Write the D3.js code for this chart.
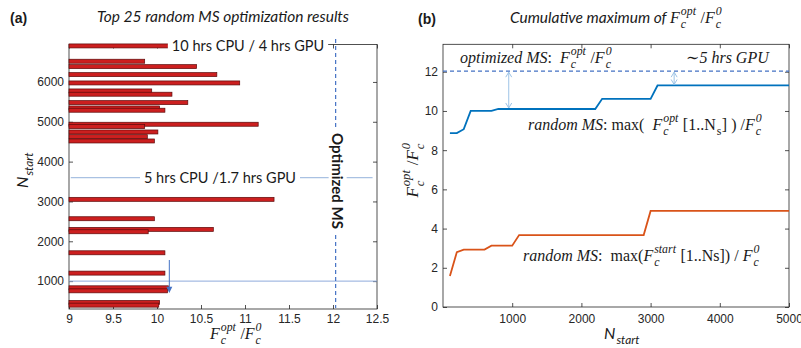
<!DOCTYPE html>
<html>
<head>
<meta charset="utf-8">
<script src="https://cdn.jsdelivr.net/npm/d3@7"></script>
<style>
  body { margin: 0; background: #fff; }
  text { white-space: pre; }
</style>
</head>
<body>
<svg id="chart" width="801" height="348"></svg>
<script>
// ---- data: panel (a) top 25 random multi-start results ----
const barNstart = [6904, 6520, 6385, 6184, 5975, 5774, 5692, 5481, 5347, 5290, 4938, 4878, 4744,
  4626, 4518, 3053, 2566, 2299, 2239, 1711, 1201, 832, 756, 465, 397];
const barRatio = [10.13, 9.86, 10.45, 10.68, 10.94, 9.94, 10.17, 10.35, 10.03, 10.09, 11.15, 9.86, 10.01,
  9.89, 9.97, 11.33, 9.97, 10.64, 9.90, 10.09, 10.09, 10.13, 10.12, 10.03, 10.02];
const optimizedRatio = 12.03;
const cpu10Nstart = 6904;   // "10 hrs CPU / 4 hrs GPU"
const cpu5Nstart = 3600;    // "5 hrs CPU /1.7 hrs GPU"
const markNstart = 1000;

// ---- data: panel (b) cumulative maxima ----
const nsOpt = [100, 200, 300, 400, 700, 800, 2200, 2300, 3000, 3100, 5000];
const cumOpt = [8.87, 8.87, 9.07, 10.0, 10.0, 10.1, 10.1, 10.62, 10.62, 11.3, 11.3];
const nsStart = [100, 200, 300, 600, 700, 1000, 1100, 2900, 3000, 5000];
const cumStart = [1.58, 2.8, 2.93, 2.93, 3.13, 3.13, 3.67, 3.67, 4.9, 4.9];

// ---- ticks ----
const xTicksA = [9, 9.5, 10, 10.5, 11, 11.5, 12, 12.5];
const yTicksA = [1000, 2000, 3000, 4000, 5000, 6000];
const xTicksB = [1000, 2000, 3000, 4000, 5000];
const yTicksB = [0, 2, 4, 6, 8, 10, 12];

const SANS = "'Liberation Sans', Arial, sans-serif";
const CAL = "Lato, 'Open Sans', sans-serif";
const SERIF = "'Liberation Serif', 'DejaVu Serif', serif";
const AXC = '#262626';

const svg = d3.select('#chart');

// rich text with stacked sub/superscripts; pieces: {t, i, f, b} or {sub, sup}
function rich(parent, x, y, pieces, o = {}) {
  const size = o.size || 15;
  const font = o.font || SERIF;
  const g = parent.append('g').attr('fill', o.fill || '#1a1a1a');
  let cx = 0;
  pieces.forEach(p => {
    if (p.t != null) {
      const t = g.append('text').attr('x', cx).attr('y', 0).text(p.t)
        .style('font-family', p.f || font).style('font-size', (p.s || size) + 'px')
        .style('font-style', p.i ? 'italic' : 'normal').style('font-weight', p.b ? 'bold' : 'normal');
      cx += t.node().getComputedTextLength();
    } else {
      const ss = size * 0.74;
      let w = 0;
      if (p.sub != null) {
        const t = g.append('text').attr('x', cx + 1).attr('y', size * 0.33).text(p.sub)
          .style('font-family', p.f || font).style('font-size', ss + 'px').style('font-style', p.ui ? 'normal' : 'italic');
        w = Math.max(w, t.node().getComputedTextLength() + 1.5);
      }
      if (p.sup != null) {
        const t = g.append('text').attr('x', cx + 1).attr('y', -size * 0.47).text(p.sup)
          .style('font-family', p.f || font).style('font-size', ss + 'px').style('font-style', 'italic');
        w = Math.max(w, t.node().getComputedTextLength() + 1.5);
      }
      cx += w;
    }
  });
  const shift = o.anchor === 'middle' ? -cx / 2 : o.anchor === 'end' ? -cx : 0;
  g.attr('transform', `translate(${x},${y}) rotate(${o.rotate || 0}) translate(${shift},0)`);
  return g;
}

function styleAxis(g, size) {
  g.select('.domain').remove();
  g.selectAll('line').attr('stroke', AXC).attr('stroke-width', 0.8);
  g.selectAll('text').attr('fill', AXC).style('font-family', SANS).style('font-size', size + 'px');
}

const Fratio = [{ t: 'F', i: true }, { sub: 'c', sup: 'opt' }, { t: ' /' }, { t: 'F', i: true }, { sub: 'c', sup: '0' }];

// =============== panel (a) ===============
const xA = d3.scaleLinear().domain([9, 12.5]).range([69, 377]);
const yA = d3.scaleLinear().domain([300, 6940]).range([309, 44.5]);
const gA = svg.append('g');

gA.append('g').attr('transform', 'translate(0,309)')
  .call(d3.axisBottom(xA).tickValues(xTicksA).tickFormat(d3.format('')).tickSizeInner(-4).tickSizeOuter(0).tickPadding(5))
  .call(g => styleAxis(g, 12));
gA.append('g').attr('transform', 'translate(0,44.5)')
  .call(d3.axisTop(xA).tickValues(xTicksA).tickFormat('').tickSizeInner(-4).tickSizeOuter(0))
  .call(g => styleAxis(g, 12));
gA.append('g').attr('transform', 'translate(69,0)')
  .call(d3.axisLeft(yA).tickValues(yTicksA).tickFormat(d3.format('d')).tickSizeInner(-4).tickSizeOuter(0).tickPadding(5))
  .call(g => styleAxis(g, 12));
gA.append('g').attr('transform', 'translate(377,0)')
  .call(d3.axisRight(yA).tickValues(yTicksA).tickFormat('').tickSizeInner(-4).tickSizeOuter(0))
  .call(g => styleAxis(g, 12));
gA.append('rect').attr('x', 69).attr('y', 44.5).attr('width', 308).attr('height', 264.5)
  .attr('fill', 'none').attr('stroke', AXC).attr('stroke-width', 0.8);

// reference lines
gA.append('line').attr('x1', xA(9)).attr('x2', xA(12.5)).attr('y1', yA(markNstart)).attr('y2', yA(markNstart))
  .attr('stroke', '#8faadc').attr('stroke-width', 1);
gA.append('line').attr('x1', xA(9.02)).attr('x2', xA(12.45)).attr('y1', yA(cpu5Nstart)).attr('y2', yA(cpu5Nstart))
  .attr('stroke', '#a9c1e2').attr('stroke-width', 1.2);

// bars
gA.selectAll('.bar').data(barNstart).enter().append('rect')
  .attr('class', 'bar')
  .attr('x', xA(9))
  .attr('y', d => yA(d) - 2)
  .attr('width', (d, i) => xA(barRatio[i]) - xA(9))
  .attr('height', 4)
  .attr('fill', '#cc1f1f')
  .attr('stroke', '#5c0a0a')
  .attr('stroke-width', 0.7);

// optimized MS vertical dashed line
gA.append('line').attr('x1', xA(optimizedRatio)).attr('x2', xA(optimizedRatio)).attr('y1', 39).attr('y2', 308)
  .attr('stroke', '#4472c4').attr('stroke-width', 1.2).attr('stroke-dasharray', '4,3');

// arrow at N=1000
const ax = xA(10.14);
gA.append('line').attr('x1', ax).attr('x2', ax).attr('y1', yA(1530)).attr('y2', yA(790))
  .attr('stroke', '#4472c4').attr('stroke-width', 1);
gA.append('path')
  .attr('d', `M${ax - 3},${yA(860)} L${ax + 3},${yA(860)} L${ax},${yA(700)} Z`)
  .attr('fill', '#4472c4');

// annotation labels with white backgrounds
function boxLabel(x, y, txt, opts) {
  const t = gA.append('text').attr('x', x).attr('y', y).text(txt)
    .attr('fill', '#1a1a1a').attr('text-anchor', 'middle').attr('dominant-baseline', 'central')
    .style('font-family', CAL).style('font-size', opts.size + 'px').style('font-weight', opts.bold ? 'bold' : 'normal');
  if (opts.rotate) t.attr('transform', `rotate(90,${x},${y})`);
  const bb = t.node().getBBox();
  const r = gA.insert('rect', () => t.node())
    .attr('x', bb.x - opts.pad).attr('y', bb.y).attr('width', bb.width + 2 * opts.pad).attr('height', bb.height)
    .attr('fill', '#fff');
  if (opts.rotate) r.attr('transform', `rotate(90,${x},${y})`);
}
boxLabel(248, yA(cpu10Nstart), '10 hrs CPU / 4 hrs GPU', { size: 14.5, pad: 4 });
boxLabel(220, yA(cpu5Nstart), '5 hrs CPU /1.7 hrs GPU', { size: 14.5, pad: 4 });
boxLabel(xA(optimizedRatio) + 2, 181, 'Optimized MS', { size: 15, pad: 6, bold: true, rotate: true });

// titles and axis labels
svg.append('text').attr('x', 10).attr('y', 23).text('(a)')
  .attr('fill', '#1a1a1a').style('font-family', SANS).style('font-size', '14px').style('font-weight', 'bold');
svg.append('text').attr('x', 223).attr('y', 22).attr('text-anchor', 'middle').text('Top 25 random MS optimization results')
  .attr('fill', '#1a1a1a').style('font-family', CAL).style('font-size', '15.5px').style('font-style', 'italic');
rich(svg, 236, 339, Fratio, { size: 16, anchor: 'middle' });
rich(svg, 28, 170, [{ t: 'N', i: true }, { sub: 'start' }], { size: 16, font: CAL, anchor: 'middle', rotate: -90 });

// =============== panel (b) ===============
const xB = d3.scaleLinear().domain([0, 5000]).range([443, 789]);
const yB = d3.scaleLinear().domain([0, 13.4]).range([307, 44.3]);
const gB = svg.append('g');

gB.append('g').attr('transform', 'translate(0,307)')
  .call(d3.axisBottom(xB).tickValues(xTicksB).tickFormat(d3.format('d')).tickSizeInner(-4).tickSizeOuter(0).tickPadding(7))
  .call(g => styleAxis(g, 12));
gB.append('g').attr('transform', 'translate(0,44.3)')
  .call(d3.axisTop(xB).tickValues(xTicksB).tickFormat('').tickSizeInner(-4).tickSizeOuter(0))
  .call(g => styleAxis(g, 12));
gB.append('g').attr('transform', 'translate(443,0)')
  .call(d3.axisLeft(yB).tickValues(yTicksB).tickSizeInner(-4).tickSizeOuter(0).tickPadding(5))
  .call(g => styleAxis(g, 12));
gB.append('g').attr('transform', 'translate(789,0)')
  .call(d3.axisRight(yB).tickValues(yTicksB).tickFormat('').tickSizeInner(-4).tickSizeOuter(0))
  .call(g => styleAxis(g, 12));
gB.append('rect').attr('x', 443).attr('y', 44.3).attr('width', 346).attr('height', 262.7)
  .attr('fill', 'none').attr('stroke', AXC).attr('stroke-width', 0.8);

// optimized level
gB.append('line').attr('x1', xB(0)).attr('x2', xB(5000)).attr('y1', yB(optimizedRatio)).attr('y2', yB(optimizedRatio))
  .attr('stroke', '#4472c4').attr('stroke-width', 1.2).attr('stroke-dasharray', '4,3');

const line = d3.line().x(d => xB(d[0])).y(d => yB(d[1]));
gB.append('path').datum(nsOpt.map((n, i) => [n, cumOpt[i]]))
  .attr('fill', 'none').attr('stroke', '#0072bd').attr('stroke-width', 1.8).attr('d', line);
gB.append('path').datum(nsStart.map((n, i) => [n, cumStart[i]]))
  .attr('fill', 'none').attr('stroke', '#d95319').attr('stroke-width', 1.8).attr('d', line);

// double-headed gap arrows
function gapArrow(n, v0, v1) {
  const x = xB(n), y0 = yB(v1) + 1, y1 = yB(v0) - 1;
  const g = gB.append('g').attr('stroke', '#9dc3e6').attr('stroke-width', 1).attr('fill', 'none');
  g.append('line').attr('x1', x).attr('x2', x).attr('y1', y0).attr('y2', y1);
  g.append('path').attr('d', `M${x - 3},${y0 + 5} L${x},${y0} L${x + 3},${y0 + 5}`);
  g.append('path').attr('d', `M${x - 3},${y1 - 5} L${x},${y1} L${x + 3},${y1 - 5}`);
}
gapArrow(950, 10.1, optimizedRatio);
gapArrow(3340, 11.3, optimizedRatio);

// annotations
rich(svg, 460, 63, [{ t: 'optimized MS', i: true }, { t: ':  ' }].concat(Fratio), { size: 16 });
rich(svg, 686, 63, [{ t: '\u223C5 ', i: true }, { t: 'hrs GPU', i: true }], { size: 16 });
rich(svg, 528, 130, [{ t: 'random MS', i: true }, { t: ': max(  ' }, { t: 'F', i: true }, { sub: 'c', sup: 'opt' },
  { t: ' [1..N' }, { sub: 's', ui: true }, { t: '] ) /' }, { t: 'F', i: true }, { sub: 'c', sup: '0' }], { size: 16 });
rich(svg, 523, 261, [{ t: 'random MS', i: true }, { t: ':  max(' }, { t: 'F', i: true }, { sub: 'c', sup: 'start' },
  { t: ' [1..Ns]) / ' }, { t: 'F', i: true }, { sub: 'c', sup: '0' }], { size: 16 });

svg.append('text').attr('x', 418).attr('y', 24).text('(b)')
  .attr('fill', '#1a1a1a').style('font-family', SANS).style('font-size', '14px').style('font-weight', 'bold');
rich(svg, 616, 23, [{ t: 'Cumulative maximum of ', i: true, f: CAL, s: 15.5 }].concat(Fratio), { size: 16, anchor: 'middle' });
rich(svg, 418, 170, Fratio, { size: 17, anchor: 'middle', rotate: -90 });
rich(svg, 622, 339, [{ t: 'N', i: true }, { sub: 'start' }], { size: 16, font: CAL, anchor: 'middle' });
</script>
</body>
</html>
